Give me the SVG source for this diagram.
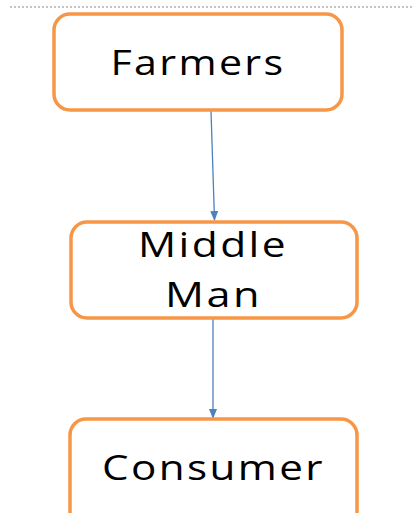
<svg xmlns="http://www.w3.org/2000/svg" width="414" height="513" viewBox="0 0 414 513">
<style>
.box{fill:#fff;stroke:#F79646;stroke-width:3.5}
.lbl{font-family:"Open Sans","Liberation Sans",sans-serif;font-size:35px;fill:#000;text-anchor:middle;letter-spacing:2px}
.conn{stroke:#4F81BD;stroke-width:1.3;fill:none}
</style>
<defs>
<marker id="ah" markerWidth="10" markerHeight="8" refX="9" refY="4" orient="auto" markerUnits="userSpaceOnUse">
<path d="M0,0 L10,4 L0,8 Z" fill="#4F81BD"/>
</marker>
</defs>
<line x1="10" y1="7" x2="414" y2="7" stroke="#888" stroke-width="1" stroke-dasharray="2,2"/>
<g id="connectors">
<line class="conn" x1="211" y1="111" x2="214.5" y2="220" marker-end="url(#ah)"/>
<line class="conn" x1="213" y1="318" x2="213" y2="418" marker-end="url(#ah)"/>
</g>
<g id="farmers">
<rect class="box" x="54" y="14" width="288" height="96" rx="16"/>
<text class="lbl" x="198" y="75" textLength="175" lengthAdjust="spacingAndGlyphs">Farmers</text>
</g>
<g id="middleman">
<rect class="box" x="71" y="222" width="286" height="96" rx="16"/>
<text class="lbl" x="213" y="257" textLength="150" lengthAdjust="spacingAndGlyphs">Middle</text>
<text class="lbl" x="213.5" y="307" textLength="97" lengthAdjust="spacingAndGlyphs">Man</text>
</g>
<g id="consumer">
<rect class="box" x="70" y="419" width="287" height="110" rx="16"/>
<text class="lbl" x="213.5" y="480" textLength="223" lengthAdjust="spacingAndGlyphs">Consumer</text>
</g>
</svg>
